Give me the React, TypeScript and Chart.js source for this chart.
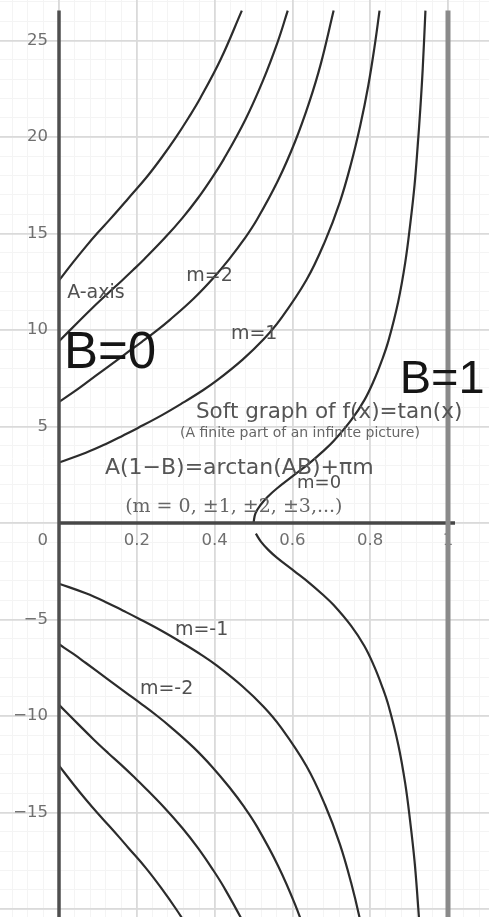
import React, { useEffect, useRef } from 'react';
import { Chart, registerables } from 'chart.js';

Chart.register(...registerables);

// Points are [B, A]: B runs along the horizontal axis, A up the vertical one.
type Pt = [number, number];

// Branches of A(1−B) = arctan(AB) + πm for 0 ≤ B ≤ 1
const branchM4: Pt[] = [
  [0, 12.57], [0.037, 13.53], [0.070, 14.35], [0.100, 15.05], [0.128, 15.67],
  [0.154, 16.26], [0.178, 16.82], [0.224, 17.89], [0.264, 18.94], [0.300, 19.97],
  [0.333, 21.00], [0.363, 22.01], [0.416, 24.04], [0.470, 26.55],
];
const branchM3: Pt[] = [
  [0, 9.42], [0.048, 10.39], [0.089, 11.21], [0.126, 11.91], [0.160, 12.53],
  [0.191, 13.12], [0.219, 13.67], [0.271, 14.75], [0.317, 15.80], [0.357, 16.83],
  [0.392, 17.85], [0.424, 18.87], [0.479, 20.90], [0.524, 22.91], [0.562, 24.92],
  [0.588, 26.55],
];
const branchM2: Pt[] = [
  [0, 6.28], [0.037, 6.78], [0.069, 7.25], [0.124, 8.07], [0.171, 8.77],
  [0.213, 9.39], [0.251, 9.97], [0.285, 10.53], [0.345, 11.61], [0.395, 12.66],
  [0.438, 13.69], [0.476, 14.71], [0.509, 15.73], [0.563, 17.75], [0.607, 19.77],
  [0.643, 21.78], [0.673, 23.79], [0.706, 26.55],
];
const branchM1: Pt[] = [
  [0, 3.14], [0.069, 3.64], [0.122, 4.11], [0.165, 4.54], [0.203, 4.93],
  [0.267, 5.62], [0.320, 6.25], [0.366, 6.83], [0.406, 7.39], [0.472, 8.47],
  [0.526, 9.52], [0.569, 10.55], [0.636, 12.59], [0.684, 14.61], [0.722, 16.63],
  [0.751, 18.64], [0.775, 20.65], [0.795, 22.66], [0.811, 24.66], [0.824, 26.55],
];
const branchM0Upper: Pt[] = [
  [0.500, 0], [0.505, 0.50], [0.519, 0.96], [0.538, 1.39], [0.560, 1.79],
  [0.604, 2.48], [0.644, 3.11], [0.677, 3.69], [0.706, 4.25], [0.751, 5.33],
  [0.785, 6.37], [0.810, 7.41], [0.830, 8.43], [0.847, 9.45], [0.872, 11.47],
  [0.890, 13.49], [0.903, 15.50], [0.914, 17.51], [0.922, 19.52], [0.929, 21.52],
  [0.935, 23.53], [0.942, 26.55],
];
const branchM0Lower: Pt[] = [
  [0.506, -0.55], [0.519, -0.96], [0.538, -1.39], [0.560, -1.79],
  [0.604, -2.48], [0.644, -3.11], [0.677, -3.69], [0.706, -4.25], [0.751, -5.33],
  [0.785, -6.37], [0.810, -7.41], [0.830, -8.43], [0.847, -9.45], [0.872, -11.47],
  [0.890, -13.49], [0.903, -15.50], [0.914, -17.51], [0.922, -19.52], [0.929, -21.52],
];
const branchMneg1: Pt[] = [
  [0, -3.14], [0.069, -3.64], [0.122, -4.11], [0.165, -4.54], [0.203, -4.93],
  [0.267, -5.62], [0.320, -6.25], [0.366, -6.83], [0.406, -7.39], [0.472, -8.47],
  [0.526, -9.52], [0.569, -10.55], [0.636, -12.59], [0.684, -14.61], [0.722, -16.63],
  [0.751, -18.64], [0.775, -20.65], [0.795, -22.66],
];
const branchMneg2: Pt[] = [
  [0, -6.28], [0.037, -6.78], [0.069, -7.25], [0.124, -8.07], [0.171, -8.77],
  [0.213, -9.39], [0.251, -9.97], [0.285, -10.53], [0.345, -11.61], [0.395, -12.66],
  [0.438, -13.69], [0.476, -14.71], [0.509, -15.73], [0.563, -17.75], [0.607, -19.77],
  [0.643, -21.78], [0.673, -23.79],
];
const branchMneg3: Pt[] = [
  [0, -9.42], [0.048, -10.39], [0.089, -11.21], [0.126, -11.91], [0.160, -12.53],
  [0.191, -13.12], [0.219, -13.67], [0.271, -14.75], [0.317, -15.80], [0.357, -16.83],
  [0.392, -17.85], [0.424, -18.87], [0.479, -20.90], [0.524, -22.91],
];
const branchMneg4: Pt[] = [
  [0, -12.57], [0.037, -13.53], [0.070, -14.35], [0.100, -15.05], [0.128, -15.67],
  [0.154, -16.26], [0.178, -16.82], [0.224, -17.89], [0.264, -18.94], [0.300, -19.97],
  [0.333, -21.00], [0.363, -22.01], [0.416, -24.04],
];

// The A = 0 branch of m = 0 and the two boundary lines B = 0, B = 1
const zeroBranch: Pt[] = [[0, 0], [1.018, 0]];
const lineB0: Pt[] = [[0, -21], [0, 26.55]];
const lineB1: Pt[] = [[1, -21], [1, 26.55]];

// Axis ticks
const xMajorGrid = [0, 0.2, 0.4, 0.6, 0.8, 1];
const yMajorGrid = [-20, -15, -10, -5, 0, 5, 10, 15, 20, 25];
const xTickValues = [0.2, 0.4, 0.6, 0.8, 1];
const xTickLabels = ['0.2', '0.4', '0.6', '0.8', '1'];
const yTickValues = [-15, -10, -5, 5, 10, 15, 20, 25];
const yTickLabels = ['\u221215', '\u221210', '\u22125', '5', '10', '15', '20', '25'];
const originLabel = '0';

const W = 489;
const H = 917;
const VIEW = { bMin: -0.1517, bMax: 1.1054, aMin: -20.41, aMax: 27.1 };

const SANS = '"DejaVu Sans", "Noto Sans", sans-serif';
const BIG = '"Liberation Sans", Arial, sans-serif';

// Captions, anchored (left edge, baseline) in B/A units
const notes = [
  { text: 'A-axis', b: 0.021, a: 11.66, font: `19px ${SANS}`, color: '#505050' },
  { text: 'm=2', b: 0.327, a: 12.54, font: `19px ${SANS}`, color: '#505050' },
  { text: 'm=1', b: 0.442, a: 9.53, font: `19px ${SANS}`, color: '#505050' },
  { text: 'B=0', b: 0.013, a: 8.03, font: `51px ${BIG}`, color: '#151515' },
  { text: 'B=1', b: 0.876, a: 6.74, font: `47px ${BIG}`, color: '#151515' },
  { text: 'Soft graph of f(x)=tan(x)', b: 0.352, a: 5.44, font: `21.5px ${SANS}`, color: '#555555' },
  { text: '(A finite part of an infinite picture)', b: 0.311, a: 4.46, font: `14px ${SANS}`, color: '#666666' },
  { text: 'A(1\u2212B)=arctan(AB)+\u03c0m', b: 0.118, a: 2.54, font: `22px ${SANS}`, color: '#555555' },
  { text: '(m = 0, \u00b11, \u00b12, \u00b13,...)', b: 0.17, a: 0.57, font: '19px "DejaVu Serif", serif', color: '#666666' },
  { text: 'm=0', b: 0.612, a: 1.81, font: `18px ${SANS}`, color: '#505050' },
  { text: 'm=-1', b: 0.298, a: -5.8, font: `19px ${SANS}`, color: '#505050' },
  { text: 'm=-2', b: 0.208, a: -8.86, font: `19px ${SANS}`, color: '#505050' },
];

const toXY = (pts: Pt[]) => pts.map(([x, y]) => ({ x, y }));

const curve = (pts: Pt[]) => ({
  data: toXY(pts),
  showLine: true,
  pointRadius: 0,
  borderColor: '#2c2c2c',
  borderWidth: 2.2,
  tension: 0.4,
});

const straight = (pts: Pt[], color: string, width: number) => ({
  data: toXY(pts),
  showLine: true,
  pointRadius: 0,
  borderColor: color,
  borderWidth: width,
  tension: 0,
});

const fixedTicks = (values: number[]) => (scale: any) => {
  scale.ticks = values.map((value) => ({ value }));
};

const minorTicks = (step: number) => (scale: any) => {
  const out: { value: number }[] = [];
  for (let k = Math.ceil(scale.min / step); k * step <= scale.max; k++) out.push({ value: k * step });
  scale.ticks = out;
};

const labelsPlugin = {
  id: 'axisAndNotes',
  beforeDatasetsDraw(chart: any) {
    const { ctx } = chart;
    const xs = chart.scales.x;
    const ys = chart.scales.y;
    const x0 = xs.getPixelForValue(0);
    const y0 = ys.getPixelForValue(0);
    ctx.save();
    ctx.font = `16.5px ${SANS}`;
    ctx.fillStyle = '#6f6f6f';
    ctx.textAlign = 'right';
    ctx.textBaseline = 'middle';
    yTickValues.forEach((v, i) => ctx.fillText(yTickLabels[i], x0 - 11, ys.getPixelForValue(v)));
    ctx.fillText(originLabel, x0 - 11, y0 + 18);
    ctx.textAlign = 'center';
    xTickValues.forEach((v, i) => ctx.fillText(xTickLabels[i], xs.getPixelForValue(v), y0 + 18));
    ctx.restore();
  },
  afterDatasetsDraw(chart: any) {
    const { ctx } = chart;
    const xs = chart.scales.x;
    const ys = chart.scales.y;
    ctx.save();
    ctx.textAlign = 'left';
    ctx.textBaseline = 'alphabetic';
    notes.forEach((n) => {
      ctx.font = n.font;
      ctx.fillStyle = n.color;
      ctx.fillText(n.text, xs.getPixelForValue(n.b), ys.getPixelForValue(n.a));
    });
    ctx.restore();
  },
};

export default function App() {
  const canvasRef = useRef<HTMLCanvasElement | null>(null);

  useEffect(() => {
    const canvas = canvasRef.current;
    if (!canvas) return;
    const hiddenTicks = { display: false };
    const chart = new Chart(canvas, {
      type: 'scatter',
      data: {
        datasets: [
          straight(lineB1, '#8a8a8a', 5),
          straight(lineB0, '#4f4f4f', 3.5),
          straight(zeroBranch, '#474747', 3.5),
          curve(branchM4),
          curve(branchM3),
          curve(branchM2),
          curve(branchM1),
          curve(branchM0Upper),
          curve(branchM0Lower),
          curve(branchMneg1),
          curve(branchMneg2),
          curve(branchMneg3),
          curve(branchMneg4),
        ] as any,
      },
      options: {
        responsive: false,
        animation: false,
        events: [],
        layout: { padding: 0 },
        plugins: { legend: { display: false }, tooltip: { enabled: false } },
        scales: {
          x: {
            type: 'linear',
            min: VIEW.bMin,
            max: VIEW.bMax,
            position: { y: 0 } as any,
            border: { display: false },
            ticks: hiddenTicks,
            grid: { color: '#dadada', lineWidth: 1.8, drawTicks: false, z: -1 } as any,
            afterBuildTicks: fixedTicks(xMajorGrid),
          },
          y: {
            type: 'linear',
            min: VIEW.aMin,
            max: VIEW.aMax,
            position: { x: 0 } as any,
            border: { display: false },
            ticks: hiddenTicks,
            grid: { color: '#dadada', lineWidth: 1.8, drawTicks: false, z: -1 } as any,
            afterBuildTicks: fixedTicks(yMajorGrid),
          },
          xMinor: {
            axis: 'x',
            type: 'linear',
            min: VIEW.bMin,
            max: VIEW.bMax,
            position: { y: 0 } as any,
            border: { display: false },
            ticks: hiddenTicks,
            grid: { color: '#f4f4f4', lineWidth: 1, drawTicks: false, z: -2 } as any,
            afterBuildTicks: minorTicks(0.04),
          },
          yMinor: {
            axis: 'y',
            type: 'linear',
            min: VIEW.aMin,
            max: VIEW.aMax,
            position: { x: 0 } as any,
            border: { display: false },
            ticks: hiddenTicks,
            grid: { color: '#f4f4f4', lineWidth: 1, drawTicks: false, z: -2 } as any,
            afterBuildTicks: minorTicks(1),
          },
        } as any,
      },
      plugins: [labelsPlugin],
    });
    return () => chart.destroy();
  }, []);

  return (
    <div style={{ position: 'fixed', left: 0, top: 0, width: W, height: H, background: '#ffffff' }}>
      <canvas ref={canvasRef} width={W} height={H} style={{ display: 'block' }} />
    </div>
  );
}
